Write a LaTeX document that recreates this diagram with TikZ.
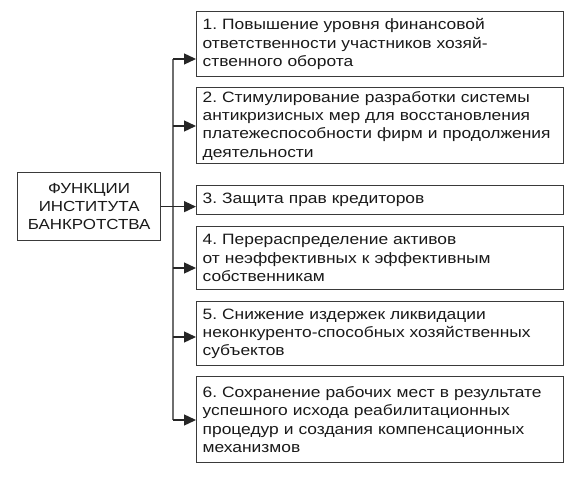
\documentclass[tikz,border=0pt]{standalone}
\usepackage{fontspec}
\setmainfont{Liberation Sans}[FakeStretch=1.16]
\usepackage{tikz}
\usetikzlibrary{positioning,arrows.meta}
\definecolor{LineGrey}{HTML}{6E6E6E}
\definecolor{BoxEdge}{HTML}{3A3A3A}
\frenchspacing
\begin{document}
\begin{tikzpicture}[x=1pt,y=-1pt,
          fbox/.style={draw=BoxEdge,line width=1.3pt,anchor=north west,
                      minimum width=367pt,text width=355pt,inner xsep=6pt,
                      inner ysep=0pt,align=left,text=black!90,
                      font=\fontsize{15}{18.3}\selectfont},
          mainbox/.style={draw=BoxEdge,line width=1.3pt,anchor=north west,
                      minimum width=143pt,minimum height=68pt,align=center,
                      inner sep=0pt,text=black!90,
                      font=\fontsize{14.6}{18}\selectfont},
          ln/.style={LineGrey,line width=1.3pt},
          ar/.style={-{Triangle[length=12pt,width=11pt]},line width=1.3pt,black!85}]
        \useasboundingbox (0,0) rectangle (583,478);
        \node[mainbox] (M) at (17,172) {ФУНКЦИИ\\ИНСТИТУТА\\БАНКРОТСТВА};
        \node[fbox,minimum height=65pt] (F1) at (196,11)
            {1. Повышение уровня финансовой\\ответственности участников хозяй-\\ственного оборота};
        \node[fbox,minimum height=76pt] (F2) at (196,87)
            {2. Стимулирование разработки системы\\антикризисных мер для восстановления\\платежеспособности фирм и продолжения\\деятельности};
        \node[fbox,minimum height=29pt] (F3) at (196,185)
            {3. Защита прав кредиторов};
        \node[fbox,minimum height=63pt] (F4) at (196,226)
            {4. Перераспределение активов\\от неэффективных к эффективным\\собственникам};
        \node[fbox,minimum height=64pt] (F5) at (196,301)
            {5. Снижение издержек ликвидации\\неконкуренто-способных хозяйственных\\субъектов};
        \node[fbox,minimum height=86pt] (F6) at (196,376)
            {6. Сохранение рабочих мест в результате\\успешного исхода реабилитационных\\процедур и создания компенсационных\\механизмов};
        % bus
        \coordinate (B1) at (173,59);
        \coordinate (B2) at (173,126);
        \coordinate (B4) at (173,268);
        \coordinate (B5) at (173,337);
        \coordinate (B6) at (173,420);
        \draw[ln] (B1) -- (B6);
        \draw[ar] (B1) -- (B1 -| F1.west);
        \draw[ar] (B2) -- (B2 -| F2.west);
        \draw[ar] (M.east) -- (M.east -| F3.west);
        \draw[ar] (B4) -- (B4 -| F4.west);
        \draw[ar] (B5) -- (B5 -| F5.west);
        \draw[ar] (B6) -- (B6 -| F6.west);
      \end{tikzpicture}
\end{document}
